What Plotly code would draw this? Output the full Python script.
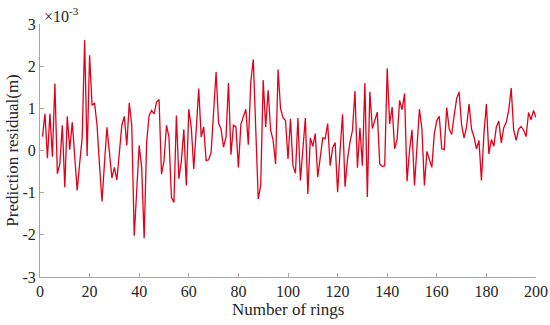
import plotly.graph_objects as go

# Prediction residual values, in units of 1e-3 m, for rings 1..200
rings = list(range(1, 201))
residual_e3 = [
    0.33, 0.87, -0.18, 0.87, -0.15, 1.59, -0.55, -0.32, 0.60, -0.87,
    0.81, 0.02, 0.67, -0.10, -0.95, -0.30, 0.30, 2.62, -0.13, 2.26,
    1.07, 1.13, 0.60, -0.35, -1.21, -0.30, 0.55, -0.05, -0.65, -0.40,
    -0.70, -0.05, 0.60, 0.81, 0.12, 1.13, 0.60, -2.02, -0.80, 0.12,
    -0.40, -2.08, 0.20, 0.83, 0.95, 0.87, 1.15, 1.21, -0.56, -0.25,
    0.60, 0.32, -1.11, -1.23, 0.83, -0.67, -0.25, 0.50, -0.83, 0.98,
    0.55, -0.44, 0.50, 1.47, 0.32, 0.56, -0.24, -0.22, -0.04, 0.80,
    1.86, 0.65, 0.51, 0.08, 0.32, 1.60, -0.10, 0.60, 0.56, -0.40,
    0.62, 0.80, 0.98, 0.14, 1.63, 2.16, 0.40, -1.15, -0.83, 1.67,
    0.56, 1.43, 0.48, 0.24, -0.32, 1.92, 0.99, 0.78, 0.71, -0.20,
    0.75, -0.36, -0.54, 0.77, -0.71, 0.00, 0.77, -1.03, 0.30, 0.10,
    0.40, -0.63, -0.12, 0.30, 0.28, 0.64, -0.36, 0.06, 0.19, -0.99,
    0.00, 0.86, -0.86, -0.20, 0.20, 0.48, 1.41, -0.41, 0.54, -0.36,
    1.60, -1.10, 1.39, 0.52, 0.71, 0.91, -0.32, -0.38, -0.36, 1.95,
    0.63, 1.03, 0.04, 0.27, 1.19, 0.97, 1.35, -0.73, 0.00, 0.49,
    -0.83, 0.15, 0.98, 0.51, -0.83, -0.02, -0.24, -0.40, 0.40, 0.71,
    0.81, 0.04, 0.02, 1.02, 0.51, 0.38, 0.83, 1.23, 1.39, 0.60,
    0.30, 0.56, 1.10, 0.51, 0.32, 0.04, 0.24, -0.71, 0.40, 1.10,
    -0.08, 0.26, 0.10, 0.56, 0.70, 0.18, 0.54, 0.67, 0.95, 1.48,
    0.48, 0.24, 0.51, 0.57, 0.48, 0.33, 0.90, 0.73, 0.95, 0.78,
]

x_ticks = list(range(0, 201, 20))
y_ticks = [-3, -2, -1, 0, 1, 2, 3]

font_family = "Times New Roman, Liberation Serif, serif"
axis_color = "#a6a6a6"
text_color = "#262626"

fig = go.Figure()
fig.add_trace(go.Scatter(
    x=rings, y=residual_e3, mode="lines",
    line=dict(color="rgb(226,0,26)", width=1.3),
    showlegend=False, hoverinfo="skip",
))

fig.update_layout(
    width=550, height=325,
    margin=dict(l=40, r=14, t=24, b=48),
    paper_bgcolor="white", plot_bgcolor="white",
    font=dict(family=font_family, color=text_color, size=16),
)
fig.update_xaxes(
    range=[0, 200], tickvals=x_ticks, ticktext=[str(v) for v in x_ticks],
    showgrid=False, zeroline=False, automargin=False,
    showline=True, linecolor=axis_color, linewidth=1,
    ticks="inside", ticklen=4, tickcolor=axis_color,
    tickfont=dict(size=16, family=font_family, color=text_color),
)
fig.update_yaxes(
    range=[-3, 3], tickvals=y_ticks, ticktext=[str(v) for v in y_ticks],
    showgrid=False, zeroline=False, automargin=False,
    showline=True, linecolor=axis_color, linewidth=1,
    ticks="inside", ticklen=4, tickcolor=axis_color,
    tickfont=dict(size=16, family=font_family, color=text_color),
)
fig.add_annotation(
    xref="paper", yref="paper", x=0.5, y=-0.13, xanchor="center", yanchor="middle",
    text="Number of rings", showarrow=False,
    font=dict(size=17, family=font_family, color=text_color),
)
fig.add_annotation(
    xref="paper", yref="paper", x=-0.056, y=0.5, xanchor="center", yanchor="middle",
    text="Prediction residual(m)", showarrow=False, textangle=-90,
    font=dict(size=17, family=font_family, color=text_color),
)
fig.add_annotation(
    xref="paper", yref="paper", x=0.005, y=0.99, xanchor="left", yanchor="bottom",
    text="×10<sup>-3</sup>", showarrow=False,
    font=dict(size=16, family=font_family, color=text_color),
)

fig.write_html(
    "out.html",
    config={"displayModeBar": False},
    post_script="document.body.style.margin='0';document.body.style.overflow='hidden';",
)
